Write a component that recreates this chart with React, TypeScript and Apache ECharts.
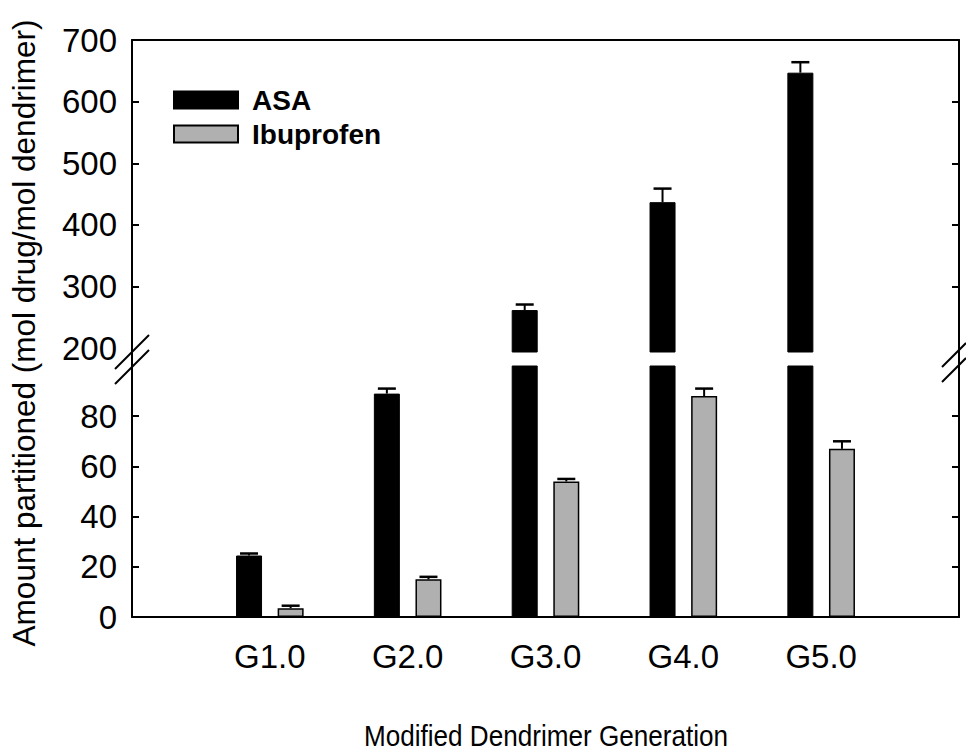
import React, { useEffect, useRef } from 'react';
import * as echarts from 'echarts';

const categories = ['G1.0', 'G2.0', 'G3.0', 'G4.0', 'G5.0'];
const asaValues = [24.5, 89, 262, 437, 647];
const asaErrors = [0.8, 2, 9, 22, 17];
const ibuValues = [3.5, 15, 54, 88, 67];
const ibuErrors = [1, 1, 1, 3, 3];
const upperTickLabels = [200, 300, 400, 500, 600, 700];
const upperTicks = [300, 400, 500, 600];
const lowerTickLabels = [0, 20, 40, 60, 80];
const lowerTicks = [20, 40, 60, 80];
const UPPER_MIN = 194;
const UPPER_MAX = 700;
const LOWER_MIN = 0;
const LOWER_MAX = 100;

const FONT = '"Liberation Sans", Arial, Helvetica, sans-serif';
const BAR_W = 26;
const BAR_GAP = 0.6;
const OFFSET = BAR_W / 2 + (BAR_W * BAR_GAP) / 2;
const CAP = 18;

const LEFT = 132;
const RIGHT_X = 959;
const UPPER_TOP = 40;
const UPPER_BOTTOM = 352;
const LOWER_TOP = 366;
const LOWER_BOTTOM = 617;

export default function App() {
  const ref = useRef<HTMLDivElement>(null);
  useEffect(() => {
    if (!ref.current) return;
    const chart = echarts.init(ref.current, undefined, { renderer: 'svg' });
    const axisData = ['', ...categories, ''];
    const pad = (arr: number[]) => ['-', ...arr, '-'];

    const gridCommon = { left: LEFT, right: 966 - RIGHT_X, show: false };
    const grids = [
      { ...gridCommon, top: UPPER_TOP, height: UPPER_BOTTOM - UPPER_TOP },
      { ...gridCommon, top: LOWER_TOP, height: LOWER_BOTTOM - LOWER_TOP },
    ];

    const lineStyle = { color: '#000', width: 2 };

    const xAxes = [
      {
        type: 'category', gridIndex: 0, data: axisData, boundaryGap: false, position: 'top',
        axisLine: { show: true, lineStyle }, axisTick: { show: false }, axisLabel: { show: false },
        splitLine: { show: false },
      },
      {
        type: 'category', gridIndex: 1, data: axisData, boundaryGap: false, position: 'bottom',
        axisLine: { show: true, lineStyle }, axisTick: { show: false },
        axisLabel: { show: true, interval: 0, fontSize: 33, fontFamily: FONT, color: '#000', margin: 23 },
        splitLine: { show: false },
      },
    ];

    const yAxisBase = (grid: number, min: number, max: number, labels: number[], ticks: number[], pos: 'left' | 'right', showLabel: boolean) => ({
      type: 'value', gridIndex: grid, min, max, position: pos,
      axisLine: { show: true, lineStyle },
      axisTick: { show: true, inside: true, length: 7, lineStyle, customValues: ticks },
      axisLabel: {
        show: showLabel, customValues: labels, fontSize: 33, fontFamily: FONT, color: '#000', margin: 15,
      },
      splitLine: { show: false },
    });

    const yAxes = [
      yAxisBase(0, UPPER_MIN, UPPER_MAX, upperTickLabels, upperTicks, 'left', true),
      yAxisBase(1, LOWER_MIN, LOWER_MAX, lowerTickLabels, lowerTicks, 'left', true),
      yAxisBase(0, UPPER_MIN, UPPER_MAX, upperTickLabels, upperTicks, 'right', false),
      yAxisBase(1, LOWER_MIN, LOWER_MAX, lowerTickLabels, lowerTicks, 'right', false),
    ];

    const asaStyle = { color: '#000', borderColor: '#000', borderWidth: 1 };
    const ibuStyle = { color: '#b0b0b0', borderColor: '#000', borderWidth: 1.5 };

    const barSeries = (name: string, values: number[], grid: number, style: any) => ({
      name, type: 'bar', xAxisIndex: grid, yAxisIndex: grid, data: pad(values),
      barWidth: BAR_W, barGap: `${BAR_GAP * 100}%`, clip: true, itemStyle: style, silent: true,
    });

    const errSeries = (name: string, values: number[], errors: number[], sign: number, grid: number, min: number, max: number) => ({
      name, type: 'custom', xAxisIndex: grid, yAxisIndex: grid, silent: true, z: 5,
      data: values.map((v, i) => [i + 1, v, errors[i]]),
      encode: { x: 0, y: 1 },
      renderItem: (params: any, api: any) => {
        const idx = api.value(0);
        const v = api.value(1);
        const e = api.value(2);
        if (v < min || v > max) return null;
        const p0 = api.coord([idx, v]);
        const p1 = api.coord([idx, v + e]);
        const x = p0[0] + sign * OFFSET;
        return {
          type: 'group',
          children: [
            { type: 'line', shape: { x1: x, y1: p0[1], x2: x, y2: p1[1] }, style: { stroke: '#000', lineWidth: 2 } },
            { type: 'line', shape: { x1: x - CAP / 2, y1: p1[1], x2: x + CAP / 2, y2: p1[1] }, style: { stroke: '#000', lineWidth: 2.5 } },
          ],
        };
      },
    });

    const slash = (x1: number, y1: number, x2: number, y2: number) => ({
      type: 'line', shape: { x1, y1, x2, y2 }, style: { stroke: '#000', lineWidth: 2 }, z: 10,
    });

    chart.setOption({
      animation: false,
      backgroundColor: '#fff',
      grid: grids,
      xAxis: xAxes,
      yAxis: yAxes,
      legend: {
        data: ['ASA', 'Ibuprofen'],
        orient: 'vertical', left: 168, top: 81, itemWidth: 64, itemHeight: 17, itemGap: 6,
        icon: 'rect', selectedMode: false,
        textStyle: { fontSize: 28, fontWeight: 'bold', fontFamily: FONT, color: '#000', padding: [0, 0, 0, 9] },
      },
      series: [
        barSeries('ASA', asaValues, 0, asaStyle),
        barSeries('Ibuprofen', ibuValues, 0, ibuStyle),
        barSeries('ASA', asaValues, 1, asaStyle),
        barSeries('Ibuprofen', ibuValues, 1, ibuStyle),
        errSeries('ASA err', asaValues, asaErrors, -1, 0, UPPER_MIN, UPPER_MAX),
        errSeries('Ibuprofen err', ibuValues, ibuErrors, 1, 0, UPPER_MIN, UPPER_MAX),
        errSeries('ASA err', asaValues, asaErrors, -1, 1, LOWER_MIN, LOWER_MAX),
        errSeries('Ibuprofen err', ibuValues, ibuErrors, 1, 1, LOWER_MIN, LOWER_MAX),
      ],
      graphic: [
        { type: 'line', shape: { x1: LEFT, y1: UPPER_BOTTOM, x2: LEFT, y2: LOWER_TOP }, style: { stroke: '#000', lineWidth: 2 } },
        { type: 'line', shape: { x1: RIGHT_X, y1: UPPER_BOTTOM, x2: RIGHT_X, y2: LOWER_TOP }, style: { stroke: '#000', lineWidth: 2 } },
        slash(115, 369, 149, 335),
        slash(115, 384, 149, 350),
        slash(942, 367, 966, 343),
        slash(942, 382, 966, 358),
        {
          type: 'text', x: 546, y: 736, scaleX: 0.9,
          style: { text: 'Modified Dendrimer Generation', font: `29px ${FONT}`, fill: '#000', align: 'center', verticalAlign: 'middle' },
        },
        {
          type: 'text', x: 24, y: 333, rotation: Math.PI / 2,
          style: { text: 'Amount partitioned (mol drug/mol dendrimer)', font: `31.5px ${FONT}`, fill: '#000', align: 'center', verticalAlign: 'middle' },
        },
      ],
    });
    return () => chart.dispose();
  }, []);
  return <div ref={ref} style={{ position: 'fixed', left: 0, top: 0, width: 966, height: 753, background: '#fff' }} />;
}
